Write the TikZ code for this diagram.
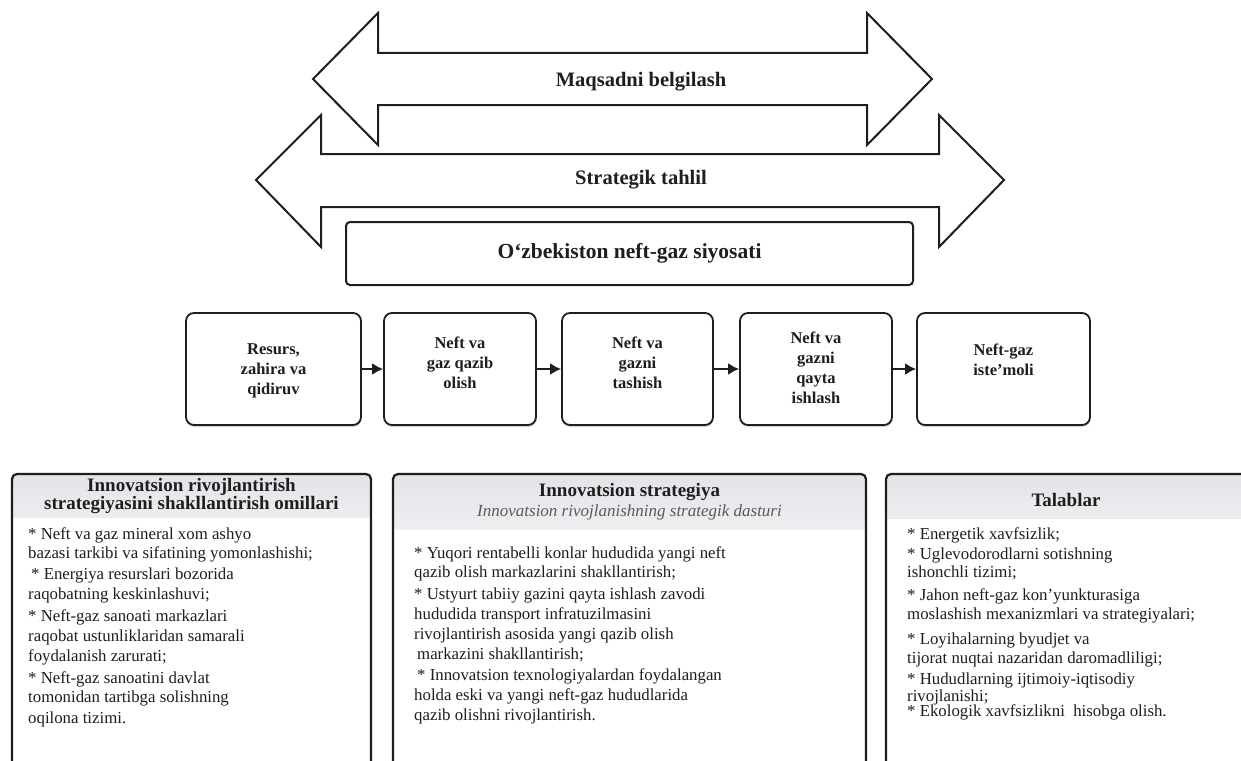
\documentclass[tikz,border=0pt]{standalone}
\usepackage{fontspec}
\setmainfont{Liberation Serif}
\usetikzlibrary{arrows.meta,shadows}
\definecolor{ink}{HTML}{1E1E1E}
\definecolor{hdrtop}{HTML}{E2E4E7}
\definecolor{hdrbot}{HTML}{EFF0F2}
\definecolor{subgray}{HTML}{5A5A5A}
\begin{document}
\begin{tikzpicture}[x=1pt,y=-1pt,
  bigarrow/.style={draw=ink, line width=2pt, fill=white, line join=miter},
  bigtxt/.style={font=\fontsize{20.5}{24}\selectfont\bfseries, text=ink, inner sep=0pt},
  polbox/.style={draw=ink, line width=2pt, rounded corners=4pt, minimum width=567pt, minimum height=63pt, inner sep=0pt},
  procbox/.style={draw=ink, line width=1.8pt, rounded corners=8pt, minimum height=112pt, inner sep=0pt, fill=white,
    drop shadow={shadow xshift=0.5pt, shadow yshift=-2pt, fill=gray!50, opacity=0.6}},
  proctxt/.style={font=\fontsize{16.5}{20}\selectfont\bfseries, align=center, text=ink, inner sep=0pt},
  flow/.style={draw=ink, line width=2pt, -{Latex[length=11pt,width=12pt]}},
  panel/.style={draw=ink, line width=2.2pt, rounded corners=5pt},
  hdr/.style={top color=hdrtop, bottom color=hdrbot, rounded corners=5pt},
  ptitle/.style={font=\fontsize{19}{17}\selectfont\bfseries, align=center, text=ink, inner sep=0pt},
  psub/.style={font=\fontsize{17}{20}\selectfont\itshape, text=subgray, inner sep=0pt},
  body/.style={font=\fontsize{16.8}{20}\selectfont, text=ink, anchor=mid west, inner sep=0pt},
]
\useasboundingbox (0,0) rectangle (1241,760);
\clip (0,0) rectangle (1241,760);

% big double arrows
\draw[bigarrow] (313,79) -- (378,13) -- (378,53) -- (867,53) -- (867,13) -- (932,79)
  -- (867,145) -- (867,105) -- (378,105) -- (378,145) -- cycle;
\node[bigtxt] (goal) at (641,82) {Maqsadni belgilash};
\draw[bigarrow] (256,180) -- (321,115) -- (321,154) -- (939,154) -- (939,115) -- (1004,180)
  -- (939,247) -- (939,207) -- (321,207) -- (321,247) -- cycle;
\node[bigtxt] (anal) at (641,180) {Strategik tahlil};

% policy box
\node[polbox, font=\fontsize{21.5}{24}\selectfont\bfseries, text=ink] (pol) at (629.5,253.5) {O‘zbekiston neft-gaz siyosati};

% process chain
\node[procbox, minimum width=175pt] (b1) at (273.5,369) {};
\node[procbox, minimum width=152pt] (b2) at (460,369) {};
\node[procbox, minimum width=151pt] (b3) at (637.5,369) {};
\node[procbox, minimum width=152pt] (b4) at (816,369) {};
\node[procbox, minimum width=173pt] (b5) at (1003.5,369) {};
\node[proctxt] (t1) at (273.5,371) {Resurs,\\zahira va\\qidiruv};
\node[proctxt] (t2) at (460,363) {Neft va\\gaz qazib\\olish};
\node[proctxt] (t3) at (637.5,363) {Neft va\\gazni\\tashish};
\node[proctxt] (t4) at (816,368) {Neft va\\gazni\\qayta\\ishlash};
\node[proctxt] (t5) at (1003.5,360) {Neft-gaz\\iste’moli};
\draw[flow] (b1.east) -- (b2.west);
\draw[flow] (b2.east) -- (b3.west);
\draw[flow] (b3.east) -- (b4.west);
\draw[flow] (b4.east) -- (b5.west);

% panel 1
\shade[hdr] (12,530) -- (12,474) -- (371,474) -- (371,530) -- cycle;
\fill[white] (12,518) rectangle (371,790);
\draw[panel] (12,790) -- (12,474) -- (371,474) -- (371,790);
\node[ptitle] (h1) at (191.5,496) {Innovatsion rivojlantirish\\strategiyasini shakllantirish omillari};
\foreach \t/\y [count=\i] in {
  {* Neft va gaz mineral xom ashyo}/537,
  {bazasi tarkibi va sifatining yomonlashishi;}/556,
  {\hspace{3pt}* Energiya resurslari bozorida}/577,
  {raqobatning keskinlashuvi;}/597,
  {* Neft-gaz sanoati markazlari}/619,
  {raqobat ustunliklaridan samarali}/639,
  {foydalanish zarurati;}/659,
  {* Neft-gaz sanoatini davlat}/681,
  {tomonidan tartibga solishning}/700,
  {oqilona tizimi.}/721}
  {\node[body] (a\i) at (28,\y) {\t};}

% panel 2
\shade[hdr] (393,540) -- (393,474) -- (866,474) -- (866,540) -- cycle;
\fill[white] (393,530) rectangle (866,790);
\draw[panel] (393,790) -- (393,474) -- (866,474) -- (866,790);
\node[ptitle] (h2) at (629.5,492) {Innovatsion strategiya};
\node[psub] (s2) at (629.5,512) {Innovatsion rivojlanishning strategik dasturi};
\foreach \t/\y [count=\i] in {
  {* Yuqori rentabelli konlar hududida yangi neft}/556,
  {qazib olish markazlarini shakllantirish;}/575,
  {* Ustyurt tabiiy gazini qayta ishlash zavodi}/597,
  {hududida transport infratuzilmasini}/617,
  {rivojlantirish asosida yangi qazib olish}/637,
  {\hspace{3pt}markazini shakllantirish;}/657,
  {\hspace{3pt}* Innovatsion texnologiyalardan foydalangan}/678,
  {holda eski va yangi neft-gaz hududlarida}/698,
  {qazib olishni rivojlantirish.}/718}
  {\node[body] (c\i) at (414,\y) {\t};}

% panel 3
\shade[hdr] (886,530) -- (886,474) -- (1262,474) -- (1262,530) -- cycle;
\fill[white] (886,519) rectangle (1262,790);
\draw[panel] (886,790) -- (886,474) -- (1262,474) -- (1262,790);
\node[ptitle] (h3) at (1066,500) {Talablar};
\foreach \t/\y [count=\i] in {
  {* Energetik xavfsizlik;}/537,
  {* Uglevodorodlarni sotishning}/557,
  {ishonchli tizimi;}/575,
  {* Jahon neft-gaz kon’yunkturasiga}/598,
  {moslashish mexanizmlari va strategiyalari;}/617,
  {* Loyihalarning byudjet va}/642,
  {tijorat nuqtai nazaridan daromadliligi;}/661,
  {* Hududlarning ijtimoiy-iqtisodiy}/682,
  {rivojlanishi;}/699,
  {* Ekologik xavfsizlikni\ \ hisobga olish.}/714}
  {\node[body] (d\i) at (907,\y) {\t};}
\end{tikzpicture}
\end{document}
